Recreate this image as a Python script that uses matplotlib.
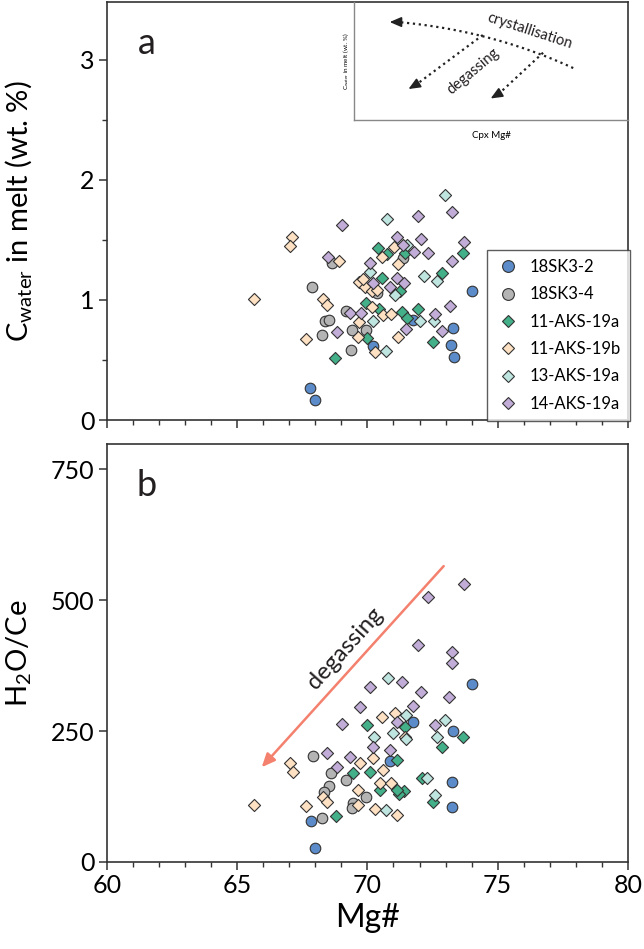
import numpy as np
import matplotlib
matplotlib.use("Agg")
import matplotlib.pyplot as plt
from matplotlib.lines import Line2D

plt.rcParams['font.family'] = ['Lato', 'DejaVu Sans']
plt.rcParams['mathtext.fontset'] = 'custom'
plt.rcParams['mathtext.rm'] = 'Lato'
plt.rcParams['mathtext.it'] = 'Lato:italic'

# ---- data: Mg# vs C_water (panel a) ---------------------------------------
a_18sk32_x = [67.79, 67.98, 74.01, 73.28, 73.21, 73.32, 70.21, 71.75]
a_18sk32_y = [0.27, 0.17, 1.07, 0.77, 0.625, 0.525, 0.62, 0.83]

a_18sk34_x = [67.87, 68.64, 68.25, 68.37, 68.52, 69.17, 69.37, 69.40, 69.94, 70.36, 71.36]
a_18sk34_y = [1.11, 1.31, 0.71, 0.825, 0.83, 0.91, 0.58, 0.75, 0.75, 1.06, 1.35]

a_11a_x = [68.75, 69.98, 69.94, 70.56, 70.44, 71.32, 71.52, 71.94, 72.51, 72.86, 73.67,
           70.40, 70.75, 71.44, 71.25]
a_11a_y = [0.52, 0.68, 0.97, 1.18, 0.92, 0.90, 0.85, 0.925, 0.65, 1.225, 1.39,
           1.43, 1.38, 1.39, 1.07]

a_11b_x = [67.10, 67.02, 65.64, 67.64, 68.29, 68.45, 68.91, 69.67, 69.90, 70.60, 70.90,
           70.29, 69.64, 69.67, 70.17, 71.17, 70.17, 70.36, 71.17, 70.56, 71.02, 69.83]
a_11b_y = [1.525, 1.45, 1.01, 0.675, 1.01, 0.96, 1.325, 1.15, 1.11, 0.87, 0.88,
           0.57, 0.69, 0.82, 0.94, 0.69, 1.07, 1.08, 1.30, 1.36, 1.44, 1.175]

a_13a_x = [72.98, 70.75, 71.52, 70.10, 72.17, 72.67, 71.06, 70.21, 72.02, 72.55, 70.71]
a_13a_y = [1.87, 1.67, 1.46, 1.23, 1.20, 1.16, 1.04, 0.825, 0.825, 0.825, 0.575]

a_14a_x = [69.02, 71.94, 73.24, 71.13, 72.05, 73.70, 71.36, 71.79, 72.32, 68.48, 73.24,
           70.10, 71.13, 70.21, 70.86, 71.40, 69.33, 69.75, 68.83, 71.48, 72.59, 73.17, 72.86]
a_14a_y = [1.62, 1.70, 1.73, 1.525, 1.51, 1.48, 1.46, 1.40, 1.39, 1.36, 1.32,
           1.31, 1.18, 1.14, 1.11, 1.14, 0.89, 0.89, 0.73, 0.76, 0.88, 0.95, 0.74]

# ---- data: Mg# vs H2O/Ce (panel b) ----------------------------------------
b_18sk32_x = [67.83, 67.98, 70.86, 74.01, 73.28, 71.75, 73.25, 73.25]
b_18sk32_y = [78, 27, 193, 340, 250, 267, 152, 105]

b_18sk34_x = [67.91, 68.60, 68.52, 68.33, 68.25, 69.17, 69.44, 69.40, 69.94]
b_18sk34_y = [202, 170, 145, 134, 84, 156, 113, 103, 124]

b_11a_x = [69.44, 68.79, 69.98, 70.48, 70.10, 71.13, 73.67, 72.50, 72.85, 72.10, 71.40,
           71.20, 71.44, 71.13]
b_11a_y = [170, 88, 261, 137, 172, 195, 239, 115, 220, 160, 135,
           130, 258, 137]

b_11b_x = [67.02, 67.14, 65.64, 67.64, 68.29, 68.45, 69.64, 69.71, 70.21, 70.48, 70.60,
           70.90, 70.29, 69.64, 71.13, 70.56, 71.06, 71.44]
b_11b_y = [189, 172, 109, 107, 124, 115, 137, 189, 198, 151, 176,
           151, 101, 109, 90, 277, 284, 239]

b_13a_x = [70.25, 70.71, 70.98, 70.79, 72.98, 72.67, 72.60, 72.30, 71.50, 71.50]
b_13a_y = [239, 99, 246, 351, 271, 239, 127, 160, 235, 281]

b_14a_x = [68.45, 69.33, 69.02, 68.83, 70.21, 70.86, 70.10, 69.71, 73.70, 72.32, 71.94,
           73.24, 73.24, 71.32, 72.05, 73.13, 71.75, 72.59, 71.13]
b_14a_y = [208, 200, 263, 181, 219, 214, 334, 296, 531, 506, 414,
           401, 380, 344, 324, 315, 298, 261, 267]

names = ['18SK3-2', '18SK3-4', '11-AKS-19a', '11-AKS-19b', '13-AKS-19a', '14-AKS-19a']
markers = ['o', 'o', 'D', 'D', 'D', 'D']
colors = ['#5b8bc9', '#b4b4b4', '#43b08a', '#fee0c2', '#bfe5e1', '#c2acd8']

series_a = [(a_18sk32_x, a_18sk32_y), (a_18sk34_x, a_18sk34_y), (a_11a_x, a_11a_y),
            (a_11b_x, a_11b_y), (a_13a_x, a_13a_y), (a_14a_x, a_14a_y)]
series_b = [(b_18sk32_x, b_18sk32_y), (b_18sk34_x, b_18sk34_y), (b_11a_x, b_11a_y),
            (b_11b_x, b_11b_y), (b_13a_x, b_13a_y), (b_14a_x, b_14a_y)]

fig = plt.figure(figsize=(6.44, 9.49), dpi=100)
ax1 = fig.add_axes([0.166, 0.5574, 0.809, 0.4406])
ax2 = fig.add_axes([0.166, 0.0917, 0.809, 0.4403])

EDGE = '#333333'


def draw(ax, series):
    for (xs, ys), name, m, c in zip(series, names, markers, colors):
        s = 58 if m == 'o' else 38
        ax.scatter(xs, ys, s=s, marker=m, facecolor=c, edgecolor=EDGE,
                   linewidth=0.8, label=name, zorder=3)


def style(ax):
    for sp in ax.spines.values():
        sp.set_color('#333333')
        sp.set_linewidth(1.2)
    ax.set_xlim(60, 80)
    ax.set_xticks([60, 65, 70, 75, 80])
    ax.set_xticks(np.arange(60, 81, 1), minor=True)
    ax.tick_params(which='major', direction='out', length=6, width=1.1,
                   color='#333333', labelsize=18, pad=3)
    ax.tick_params(which='minor', direction='out', length=3.5, width=1.0,
                   color='#333333')


draw(ax1, series_a)
style(ax1)
ax1.set_ylim(0, 3.48)
ax1.set_yticks([0, 1, 2, 3])
ax1.set_yticks([0.5, 1.5, 2.5], minor=True)
ax1.tick_params(axis='x', labelbottom=False)
ax1.set_ylabel(r'C$_{\mathrm{water}}$ in melt (wt. %)', fontsize=21)
ax1.yaxis.set_label_coords(-0.14, 0.5)
ax1.text(0.077, 0.90, 'a', transform=ax1.transAxes, fontsize=26,
         ha='center', va='center', color='#231f20')

handles = [Line2D([], [], marker=m, linestyle='none', markerfacecolor=c,
                  markeredgecolor=EDGE, markeredgewidth=0.8,
                  markersize=(8.5 if m == 'o' else 6.5))
           for m, c in zip(markers, colors)]
leg = ax1.legend(handles, names, loc='upper left', bbox_to_anchor=(0.729, 0.407),
                 borderaxespad=0, fontsize=12, frameon=True, fancybox=False,
                 edgecolor='#333333', handletextpad=0.6, labelspacing=0.68,
                 borderpad=0.55, handlelength=1.4)
leg.get_frame().set_linewidth(1.0)
leg.set_zorder(5)

# inset sketch
axi = fig.add_axes([0.5497, 0.8736, 0.4255, 0.1243])
axi.set_xlim(0, 1)
axi.set_ylim(0, 1)
axi.set_xticks([])
axi.set_yticks([])
for k in ('top', 'right'):
    axi.spines[k].set_visible(False)
for k in ('left', 'bottom'):
    axi.spines[k].set_color('#888888')
    axi.spines[k].set_linewidth(1.0)
axi.set_xlabel('Cpx Mg#', fontsize=7, labelpad=8)
axi.set_ylabel(r'C$_{\mathrm{water}}$ in melt (wt. %)', fontsize=4.5, labelpad=2)
axi.patch.set_alpha(0)

t = np.linspace(0, 1, 60)
cx = (1 - t) ** 2 * 0.80 + 2 * (1 - t) * t * 0.50 + t ** 2 * 0.16
cy = (1 - t) ** 2 * 0.44 + 2 * (1 - t) * t * 0.76 + t ** 2 * 0.83
axi.plot(cx, cy, ls=':', color='#222222', lw=1.6)
axi.annotate('', xy=(0.12, 0.83), xytext=(0.17, 0.83),
             arrowprops=dict(arrowstyle='-|>,head_length=0.7,head_width=0.3',
                             color='#222222', lw=1.2))
for (x0, y0), (x1, y1) in [((0.47, 0.72), (0.19, 0.25)), ((0.69, 0.57), (0.49, 0.17))]:
    axi.plot([x0, x1 + 0.04], [y0, y1 + 0.055], ls=':', color='#222222', lw=1.6)
    axi.annotate('', xy=(x1, y1), xytext=(x1 + 0.04, y1 + 0.055),
                 arrowprops=dict(arrowstyle='-|>,head_length=0.7,head_width=0.3',
                                 color='#222222', lw=1.2))
axi.text(0.64, 0.75, 'crystallisation', fontsize=10.5, rotation=-18,
         ha='center', va='center', color='#231f20')
axi.text(0.435, 0.41, 'degassing', fontsize=10.5, rotation=40,
         ha='center', va='center', color='#231f20')

# panel b
draw(ax2, series_b)
style(ax2)
ax2.set_ylim(0, 798)
ax2.set_yticks([0, 250, 500, 750])
ax2.set_ylabel(r'H$_2$O/Ce', fontsize=21)
ax2.yaxis.set_label_coords(-0.14, 0.5)
ax2.set_xlabel('Mg#', fontsize=23, labelpad=4)
ax2.text(0.077, 0.90, 'b', transform=ax2.transAxes, fontsize=26,
         ha='center', va='center', color='#231f20')
ax2.annotate('', xy=(65.87, 177), xytext=(73.0, 569),
             arrowprops=dict(arrowstyle='-|>,head_length=0.8,head_width=0.35',
                             color='#f4806e', lw=1.8))
ax2.text(69.15, 408, 'degassing', fontsize=17, rotation=48,
         ha='center', va='center', color='#231f20')

fig.savefig('out.png', dpi=100)
